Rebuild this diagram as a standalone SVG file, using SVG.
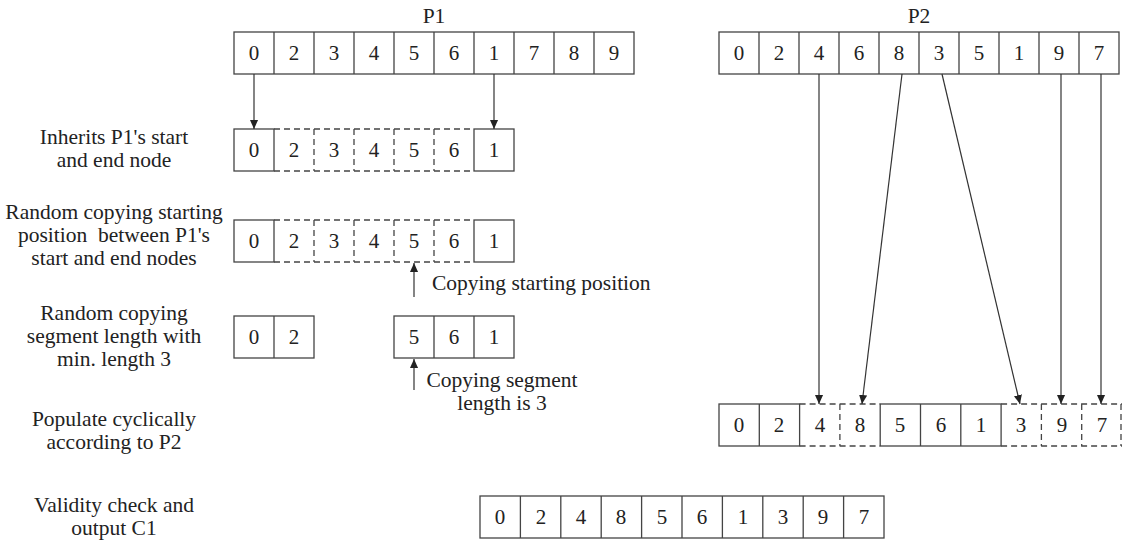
<svg xmlns="http://www.w3.org/2000/svg" width="1122" height="540" viewBox="0 0 1122 540">
<style>
text{font-family:"Liberation Serif","Times New Roman",serif;font-size:21.5px;fill:#222}
.n{font-size:21px}
.c{text-anchor:middle}
.s{fill:none;stroke:#444;stroke-width:1.3}
.d{fill:none;stroke:#444;stroke-width:1.3;stroke-dasharray:6 4}
.a{fill:none;stroke:#333;stroke-width:1.2;marker-end:url(#ah)}
</style>
<defs>
<marker id="ah" viewBox="0 0 10 10" refX="10" refY="5" markerWidth="9" markerHeight="9" markerUnits="userSpaceOnUse" orient="auto">
<path d="M0,0.5 L10,5 L0,9.5 Z" fill="#222"/>
</marker>
</defs>
<rect width="1122" height="540" fill="#fff"/>

<g id="labels">
<text class="c" x="434" y="23">P1</text>
<text class="c" x="919" y="23">P2</text>
<text class="c" x="114" y="144">Inherits P1's start</text>
<text class="c" x="114" y="167">and end node</text>
<text class="c" x="114" y="219">Random copying starting</text>
<text class="c" x="114" y="242" xml:space="preserve">position  between P1's</text>
<text class="c" x="114" y="265">start and end nodes</text>
<text class="c" x="114" y="320">Random copying</text>
<text class="c" x="114" y="343">segment length with</text>
<text class="c" x="114" y="366">min. length 3</text>
<text class="c" x="114" y="426">Populate cyclically</text>
<text class="c" x="114" y="449">according to P2</text>
<text class="c" x="114" y="512">Validity check and</text>
<text class="c" x="114" y="535">output C1</text>
<text x="432" y="290">Copying starting position</text>
<text class="c" x="502" y="387">Copying segment</text>
<text class="c" x="502" y="410">length is 3</text>
</g>

<g id="p1" class="n">
<rect class="s" x="234" y="32" width="400" height="42"/>
<path class="s" d="M274,32V74M314,32V74M354,32V74M394,32V74M434,32V74M474,32V74M514,32V74M554,32V74M594,32V74"/>
<text class="c n" x="254" y="60">0</text><text class="c n" x="294" y="60">2</text><text class="c n" x="334" y="60">3</text><text class="c n" x="374" y="60">4</text><text class="c n" x="414" y="60">5</text><text class="c n" x="454" y="60">6</text><text class="c n" x="494" y="60">1</text><text class="c n" x="534" y="60">7</text><text class="c n" x="574" y="60">8</text><text class="c n" x="614" y="60">9</text>
</g>

<g id="p2">
<rect class="s" x="719" y="32" width="400" height="42"/>
<path class="s" d="M759,32V74M799,32V74M839,32V74M879,32V74M919,32V74M959,32V74M999,32V74M1039,32V74M1079,32V74"/>
<text class="c n" x="739" y="60">0</text><text class="c n" x="779" y="60">2</text><text class="c n" x="819" y="60">4</text><text class="c n" x="859" y="60">6</text><text class="c n" x="899" y="60">8</text><text class="c n" x="939" y="60">3</text><text class="c n" x="979" y="60">5</text><text class="c n" x="1019" y="60">1</text><text class="c n" x="1059" y="60">9</text><text class="c n" x="1099" y="60">7</text>
</g>

<g id="inherit">
<rect class="s" x="234" y="129" width="40" height="42"/>
<rect class="s" x="474" y="129" width="40" height="42"/>
<path class="d" d="M274,129H474M274,171H474M314,129V171M354,129V171M394,129V171M434,129V171"/>
<text class="c n" x="254" y="157">0</text><text class="c n" x="294" y="157">2</text><text class="c n" x="334" y="157">3</text><text class="c n" x="374" y="157">4</text><text class="c n" x="414" y="157">5</text><text class="c n" x="454" y="157">6</text><text class="c n" x="494" y="157">1</text>
</g>

<g id="startpos">
<rect class="s" x="234" y="220" width="40" height="42"/>
<rect class="s" x="474" y="220" width="40" height="42"/>
<path class="d" d="M274,220H474M274,262H474M314,220V262M354,220V262M394,220V262M434,220V262"/>
<text class="c n" x="254" y="248">0</text><text class="c n" x="294" y="248">2</text><text class="c n" x="334" y="248">3</text><text class="c n" x="374" y="248">4</text><text class="c n" x="414" y="248">5</text><text class="c n" x="454" y="248">6</text><text class="c n" x="494" y="248">1</text>
</g>

<g id="segment">
<rect class="s" x="234" y="316" width="80" height="42"/>
<path class="s" d="M274,316V358"/>
<rect class="s" x="394" y="316" width="120" height="42"/>
<path class="s" d="M434,316V358M474,316V358"/>
<text class="c n" x="254" y="344">0</text><text class="c n" x="294" y="344">2</text>
<text class="c n" x="414" y="344">5</text><text class="c n" x="454" y="344">6</text><text class="c n" x="494" y="344">1</text>
</g>

<g id="populate">
<rect class="s" x="719" y="404" width="80.6" height="42"/>
<path class="s" d="M759.3,404V446"/>
<rect class="s" x="880.2" y="404" width="120.9" height="42"/>
<path class="s" d="M920.5,404V446M960.8,404V446"/>
<path class="d" d="M799.6,404H880.2M799.6,446H880.2M839.9,404V446M1001.1,404H1122M1001.1,446H1122M1041.4,404V446M1081.7,404V446M1121,404V446"/>
<text class="c n" x="739" y="432">0</text><text class="c n" x="779" y="432">2</text><text class="c n" x="820" y="432">4</text><text class="c n" x="860" y="432">8</text><text class="c n" x="900" y="432">5</text><text class="c n" x="941" y="432">6</text><text class="c n" x="981" y="432">1</text><text class="c n" x="1021" y="432">3</text><text class="c n" x="1062" y="432">9</text><text class="c n" x="1102" y="432">7</text>
</g>

<g id="final">
<rect class="s" x="480" y="496" width="404" height="42"/>
<path class="s" d="M520.4,496V538M560.8,496V538M601.2,496V538M641.6,496V538M682,496V538M722.4,496V538M762.8,496V538M803.2,496V538M843.6,496V538"/>
<text class="c n" x="500" y="524">0</text><text class="c n" x="541" y="524">2</text><text class="c n" x="581" y="524">4</text><text class="c n" x="621" y="524">8</text><text class="c n" x="662" y="524">5</text><text class="c n" x="702" y="524">6</text><text class="c n" x="743" y="524">1</text><text class="c n" x="783" y="524">3</text><text class="c n" x="823" y="524">9</text><text class="c n" x="864" y="524">7</text>
</g>

<g id="connectors">
<path class="a" d="M254,74V129"/>
<path class="a" d="M494,74V129"/>
<path class="a" d="M414,297V263"/>
<path class="a" d="M414,390V359"/>
<path class="a" d="M819,74V404"/>
<path class="a" d="M902,74L862,404"/>
<path class="a" d="M942,74L1020,404"/>
<path class="a" d="M1061,74V404"/>
<path class="a" d="M1101,74V404"/>
</g>
</svg>
